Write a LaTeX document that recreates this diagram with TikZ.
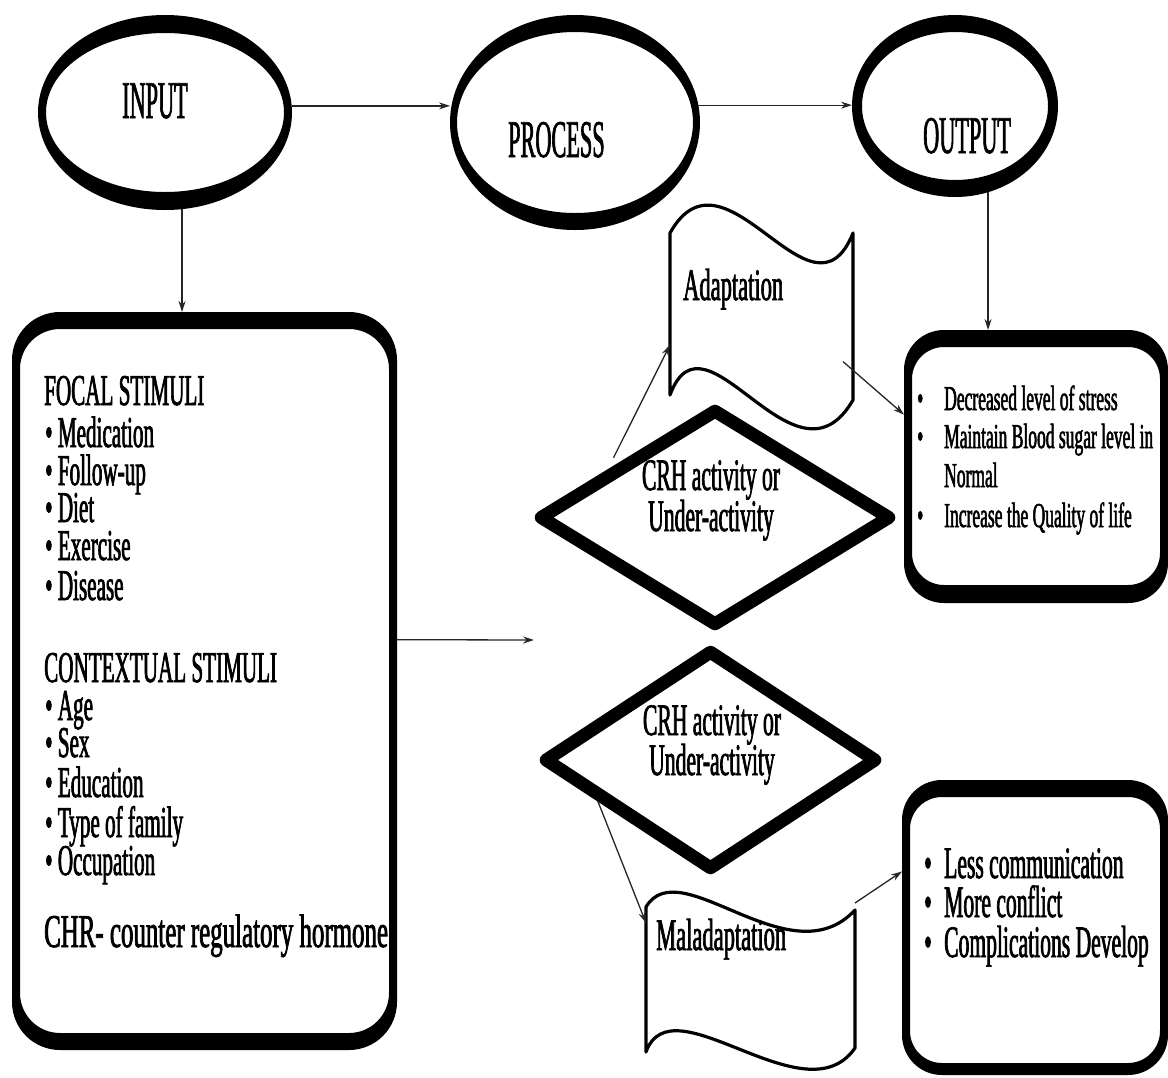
\documentclass[tikz,border=0pt]{standalone}
\usepackage{fontspec}
\setmainfont{Liberation Serif}
\newfontfamily\fBig[FakeStretch=0.42,FakeBold=1.2]{Liberation Serif}
\newfontfamily\fMid[FakeStretch=0.48,FakeBold=1.5]{Liberation Serif}
\newfontfamily\fSm[FakeStretch=0.5,FakeBold=1.5]{Liberation Serif}
\newfontfamily\fChr[FakeStretch=0.53,FakeBold=1.5]{Liberation Serif}
\usetikzlibrary{shapes.geometric,arrows.meta,calc}
\begin{document}
\begin{tikzpicture}[x=1pt,y=-1pt,
  arr/.style={draw=black!85, line width=1.3pt, -{Stealth[length=11pt,width=7pt]}},
  hole/.style={draw=none, inner sep=0pt, outer sep=0pt},
  dia/.style={diamond, draw, line width=13pt, line join=round, inner sep=0pt},
  wave/.style={draw, line width=3.2pt, line join=round},
  big/.style={inner sep=0pt, anchor=base west, font=\fBig\fontsize{53}{53}\selectfont},
  lst/.style={inner sep=0pt, anchor=base west, text height=27pt, text depth=8pt, font=\fMid\fontsize{44}{44}\selectfont},
  chr/.style={inner sep=0pt, anchor=base west, text height=30pt, text depth=9pt, font=\fChr\fontsize{47}{47}\selectfont},
  dtxt/.style={inner sep=0pt, anchor=base, text height=29pt, text depth=9pt, font=\fMid\fontsize{45}{45}\selectfont},
  ftxt/.style={inner sep=0pt, anchor=base west, text height=29pt, text depth=9pt, font=\fSm\fontsize{45}{45}\selectfont},
  otxt/.style={inner sep=0pt, anchor=base west, text height=24pt, text depth=8pt, font=\fSm\fontsize{35}{35}\selectfont},
  mtxt/.style={inner sep=0pt, anchor=base west, text height=29pt, text depth=9pt, font=\fMid\fontsize{45}{45}\selectfont}
]
\useasboundingbox (0,0) rectangle (1168,1077);
\fill[white] (0,0) rectangle (1168,1077);

% ---- ellipses ----
\node[hole, ellipse, minimum width=254pt, minimum height=195pt] (in) at (165,112.5) {};
\fill[even odd rule] (in.center) ellipse [x radius=127pt, y radius=97.5pt]
  (in.center) ellipse [x radius=119pt, y radius=79.5pt];
\node[big] (intxt) at (122,118) {INPUT};

\node[hole, ellipse, minimum width=250pt, minimum height=215pt] (proc) at (575,122.5) {};
\fill[even odd rule] (proc.center) ellipse [x radius=125pt, y radius=107.5pt]
  (proc.center) ellipse [x radius=118pt, y radius=90.5pt];
\node[big] (proctxt) at (508,157) {PROCESS};

\node[hole, ellipse, minimum width=206pt, minimum height=182pt] (out) at (955,106) {};
\fill[even odd rule] (out.center) ellipse [x radius=103pt, y radius=91pt]
  (out.center) ellipse [x radius=93pt, y radius=74pt];
\node[big] (outtxt) at (923,153) {OUTPUT};

% ---- rounded boxes ----
\node[hole, minimum width=385pt, minimum height=738pt] (lbox) at (204.5,681) {};
\fill[even odd rule] [rounded corners=48pt] (lbox.north west) rectangle (lbox.south east)
  [rounded corners=40pt] ($(lbox.north west)+(8,17)$) rectangle ($(lbox.south east)+(-8,-17)$);

\node[hole, minimum width=264pt, minimum height=273pt] (box1) at (1036,466.5) {};
\fill[even odd rule] [rounded corners=40pt] (box1.north west) rectangle (box1.south east)
  [rounded corners=32pt] ($(box1.north west)+(8,17)$) rectangle ($(box1.south east)+(-8,-18)$);

\node[hole, minimum width=266pt, minimum height=295pt] (box2) at (1035,927.5) {};
\fill[even odd rule] [rounded corners=40pt] (box2.north west) rectangle (box2.south east)
  [rounded corners=32pt] ($(box2.north west)+(8,17)$) rectangle ($(box2.south east)+(-8,-12)$);

% ---- flags ----
\node[hole, minimum width=183pt, minimum height=167pt] (fl1) at (761.5,316.5) {};
\draw[wave] (670,233) .. controls (725,135) and (812,335) .. (853,233) -- (853,400)
  .. controls (795,500) and (705,300) .. (670,395) -- cycle;
\node[hole, minimum width=209pt, minimum height=145pt] (fl2) at (750.5,979.5) {};
\draw[wave] (646,907) .. controls (680,850) and (790,980) .. (855,910) -- (855,1048)
  .. controls (805,1120) and (672,980) .. (646,1052) -- cycle;
\node[ftxt] (adtxt) at (683,300) {Adaptation};
\node[ftxt] (maltxt) at (656,950) {Maladaptation};

% ---- diamonds ----
\node[dia, minimum width=353pt, minimum height=218pt] (d1) at (715,517.5) {};
\node[dtxt] (d1a) at (711,490) {CRH activity or};
\node[dtxt] (d1b) at (711,531) {Under-activity};
\node[dia, minimum width=334pt, minimum height=221pt] (d2) at (710.5,760) {};
\node[dtxt] (d2a) at (712,735) {CRH activity or};
\node[dtxt] (d2b) at (712,775) {Under-activity};

% ---- left box text ----
\node[lst] (t1) at (44,405) {FOCAL STIMULI};
\node[lst] (t2) at (45,447) {• Medication};
\node[lst] (t3) at (45,485) {• Follow-up};
\node[lst] (t4) at (45,522) {• Diet};
\node[lst] (t5) at (45,560) {• Exercise};
\node[lst] (t6) at (45,600) {• Disease};
\node[lst] (t7) at (44,682) {CONTEXTUAL STIMULI};
\node[lst] (t8) at (45,720) {• Age};
\node[lst] (t9) at (45,757) {• Sex};
\node[lst] (t10) at (45,797) {• Education};
\node[lst] (t11) at (45,837) {• Type of family};
\node[lst] (t12) at (45,875) {• Occupation};
\node[chr] (t13) at (44,947) {CHR- counter regulatory hormone};

% ---- output box texts ----
\node[otxt] (o1) at (917,410) {\makebox[27pt][l]{•}Decreased level of stress};
\node[otxt] (o2) at (917,448) {\makebox[27pt][l]{•}Maintain Blood sugar level in};
\node[otxt] (o3) at (917,487) {\makebox[27pt][l]{}Normal};
\node[otxt] (o4) at (917,527) {\makebox[27pt][l]{•}Increase the Quality of life};

\node[mtxt] (m1) at (924,878) {\makebox[20pt][l]{•}Less communication};
\node[mtxt] (m2) at (924,917) {\makebox[20pt][l]{•}More conflict};
\node[mtxt] (m3) at (924,957) {\makebox[20pt][l]{•}Complications Develop};

% ---- connectors ----
\draw[arr] (in.3) -- (in.3 -| proc.west);
\draw[arr] (proc.8) -- (proc.8 -| out.west);
\draw[arr] (in.-80) -- (in.-80 |- lbox.north);
\draw[arr] (out.-69) -- (out.-69 |- box1.north);
\coordinate (tipx) at (534,640);
\draw[arr] ($(lbox.north east)!0.444!(lbox.south east)$) -- (tipx);
\draw[arr] ($(d1.north west)+(-10,-2)$) -- ($(fl1.north west)!0.67!(fl1.south west)$);
\draw[arr] ($(fl1.north east)!0.77!(fl1.south east)+(-10,0)$) -- ($(box1.north west)!0.31!(box1.south west)$);
\draw[arr] ($(d2.west)!0.35!(d2.south)$) -- ($(fl2.north west)!0.11!(fl2.south west)$);
\draw[arr] ($(fl2.north east)+(0,-4)$) -- ($(box2.north west)!0.31!(box2.south west)$);
\end{tikzpicture}
\end{document}
